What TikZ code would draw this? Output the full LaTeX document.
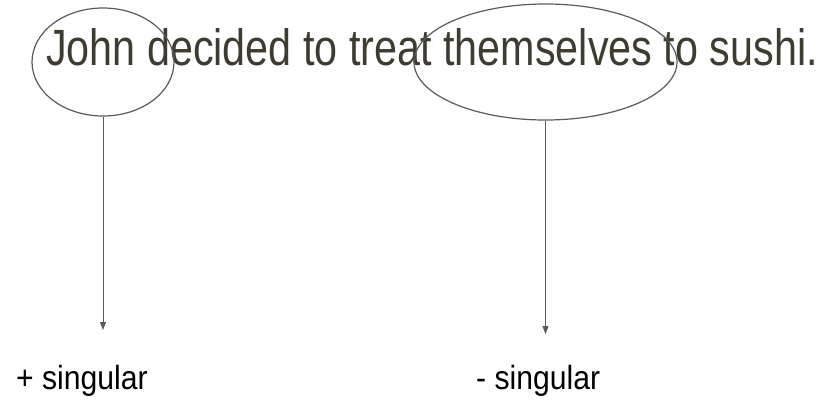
\documentclass[tikz,border=0pt]{standalone}
\usepackage{fontspec}
\setmainfont{Liberation Sans}
\newfontfamily\narrowfont[FakeStretch=0.81]{Liberation Sans}
\newfontfamily\labelfont[FakeStretch=0.9]{Liberation Sans}
\usetikzlibrary{shapes.geometric,arrows.meta}
\definecolor{sentcol}{RGB}{62,60,48}
\definecolor{linecol}{RGB}{90,90,90}
\tikzset{
  ring/.style={draw=linecol, line width=1.2pt, ellipse, inner sep=0pt},
  pointer/.style={draw=linecol, line width=1pt, -{Triangle[length=8pt,width=6pt]}},
  sentence/.style={anchor=base west, inner sep=0pt, text=sentcol, font=\narrowfont\fontsize{51}{60}\selectfont},
  feature/.style={anchor=base west, inner sep=0pt, text=black, font=\labelfont\fontsize{33.5}{40}\selectfont},
}
\begin{document}
\begin{tikzpicture}[x=1pt,y=-1pt]
\useasboundingbox (0,0) rectangle (839,400);
\node[sentence] (sent) at (46,65) {John decided to treat themselves to sushi.};
\node[ring, minimum width=142pt, minimum height=108pt] (e1) at (103,62) {};
\node[ring, minimum width=263pt, minimum height=116pt] (e2) at (545.5,62) {};
\coordinate (t1) at (103,330);
\coordinate (t2) at (545.5,334);
\draw[pointer] (e1.south) -- (t1);
\draw[pointer] (e2.south) -- (t2);
\node[feature] (plus) at (16,389) {+ singular};
\node[feature] (minus) at (476,389) {- singular};
\end{tikzpicture}
\end{document}
